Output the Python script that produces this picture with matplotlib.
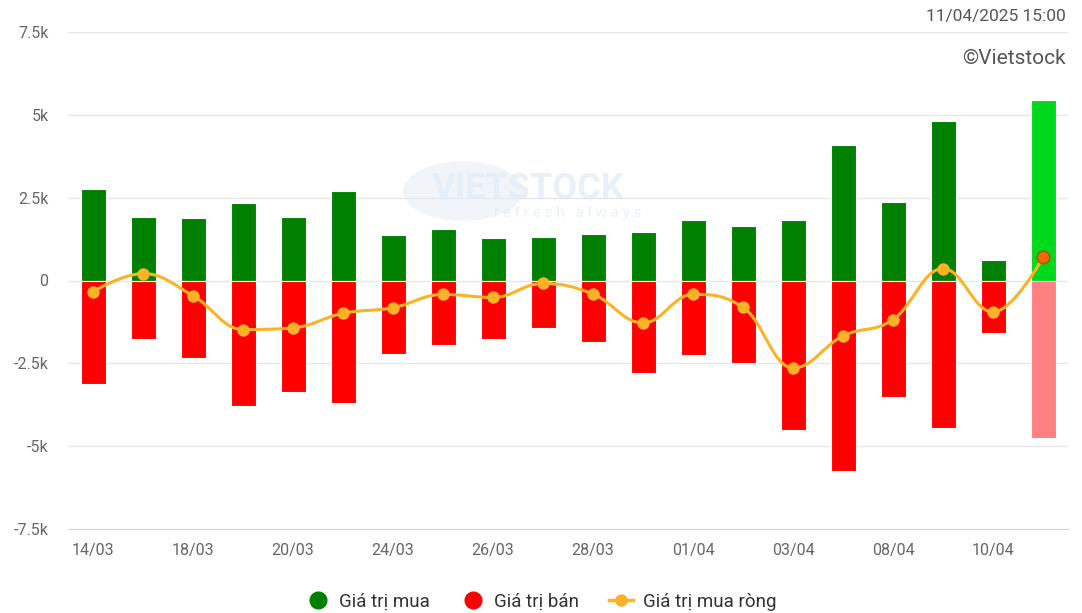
import matplotlib
matplotlib.use("Agg")
import matplotlib.pyplot as plt
from matplotlib.path import Path
from matplotlib.patches import PathPatch
from matplotlib.lines import Line2D
from matplotlib.ticker import FuncFormatter
import numpy as np

plt.rcParams["font.family"] = ["Roboto", "DejaVu Sans"]

dates = ["14/03", "17/03", "18/03", "19/03", "20/03", "21/03", "24/03", "25/03",
         "26/03", "27/03", "28/03", "31/03", "01/04", "02/04", "03/04", "04/04",
         "08/04", "09/04", "10/04", "11/04"]
buy = [2750, 1930, 1890, 2330, 1930, 2700, 1360, 1560, 1270, 1310,
       1400, 1450, 1830, 1650, 1830, 4100, 2370, 4820, 630, 5450]
sell = [-3110, -1760, -2340, -3790, -3360, -3700, -2210, -1950, -1760, -1420,
        -1850, -2780, -2250, -2490, -4500, -5750, -3530, -4460, -1570, -4740]
net = [-340, 210, -460, -1480, -1430, -990, -820, -420, -510, -90,
       -410, -1280, -420, -810, -2640, -1670, -1180, 360, -950, 700]

GREEN = "#008000"
RED = "#ff0000"
ORANGE = "#fbb225"


def spline_path(xs, ys, smoothing=1.5):
    # highcharts-like spline through the points, built as cubic bezier
    n = len(xs)
    verts = [(xs[0], ys[0])]
    codes = [Path.MOVETO]
    conts = []
    for i in range(n):
        if i == 0 or i == n - 1:
            conts.append(((xs[i], ys[i]), (xs[i], ys[i])))
            continue
        d = smoothing + 1
        lx = (smoothing * xs[i] + xs[i - 1]) / d
        ly = (smoothing * ys[i] + ys[i - 1]) / d
        rx = (smoothing * xs[i] + xs[i + 1]) / d
        ry = (smoothing * ys[i] + ys[i + 1]) / d
        if rx != lx:
            corr = (ry - ly) * (rx - xs[i]) / (rx - lx) + ys[i] - ry
            ly += corr
            ry += corr
        if ly > max(ys[i - 1], ys[i]):
            ly = max(ys[i - 1], ys[i]); ry = 2 * ys[i] - ly
        elif ly < min(ys[i - 1], ys[i]):
            ly = min(ys[i - 1], ys[i]); ry = 2 * ys[i] - ly
        if ry > max(ys[i + 1], ys[i]):
            ry = max(ys[i + 1], ys[i]); ly = 2 * ys[i] - ry
        elif ry < min(ys[i + 1], ys[i]):
            ry = min(ys[i + 1], ys[i]); ly = 2 * ys[i] - ry
        conts.append(((lx, ly), (rx, ry)))
    for i in range(1, n):
        verts += [conts[i - 1][1], conts[i][0], (xs[i], ys[i])]
        codes += [Path.CURVE4] * 3
    return Path(verts, codes)


fig = plt.figure(figsize=(10.82, 6.13), dpi=100)
ax = fig.add_axes([68 / 1082, 1 - 529 / 613, 1000 / 1082, 497 / 613])

x = np.arange(len(dates))
buy_colors = [GREEN] * (len(x) - 1) + ["#00d81e"]
sell_colors = [RED] * (len(x) - 1) + ["#ff8080"]
ax.bar(x, buy, width=0.5, color=buy_colors, edgecolor="white", linewidth=0.8, zorder=2)
ax.bar(x, sell, width=0.5, color=sell_colors, edgecolor="white", linewidth=0.8, zorder=2)

ax.add_patch(PathPatch(spline_path(list(x.astype(float)), net), fill=False,
                       edgecolor=ORANGE, linewidth=2.2, zorder=3))
ax.scatter(x[:-1], net[:-1], s=80, color=ORANGE, zorder=4, linewidths=0)
ax.scatter(x[-1:], net[-1:], s=80, color="#f06a0c", edgecolor="#b85000",
           linewidths=1, zorder=4)

ax.set_xlim(-0.5, len(x) - 0.5)
ax.set_ylim(-7500, 7500)
ax.set_yticks([-7500, -5000, -2500, 0, 2500, 5000, 7500])
ax.yaxis.set_major_formatter(FuncFormatter(
    lambda v, p: "0" if v == 0 else f"{v / 1000:g}k"))
ax.set_xticks(x[::2])
ax.set_xticklabels(dates[::2])
ax.tick_params(axis="both", length=0, labelsize=11.5, labelcolor="#666666")
ax.tick_params(axis="x", pad=10)
ax.tick_params(axis="y", pad=14)
for lab in ax.get_yticklabels():
    lab.set_horizontalalignment("right")
ax.grid(axis="y", color="#e6e6e6", linewidth=1, zorder=0)
ax.set_axisbelow(True)
for s in ["top", "right", "left"]:
    ax.spines[s].set_visible(False)
ax.spines["bottom"].set_color("#ccd6eb")
ax.spines["bottom"].set_position(("data", -7500))

# watermark
ax.text(0.46, 0.685, "VIETSTOCK", transform=ax.transAxes, fontsize=26,
        fontweight="bold", color="#dbe6f2", alpha=0.6, ha="center", va="center", zorder=1)
ax.text(0.50, 0.635, "r e f r e s h   a l w a y s", transform=ax.transAxes, fontsize=11,
        color="#dbe6f2", alpha=0.6, ha="center", va="center", zorder=1)
ax.add_patch(plt.Circle((0.395, 0.68), 0.06, transform=ax.transAxes,
                        color="#e4edf7", alpha=0.5, zorder=1, linewidth=0))

fig.text(1066 / 1082, 1 - 17 / 613, "11/04/2025 15:00", ha="right", va="center",
         fontsize=12.5, color="#555555")
fig.text(1066 / 1082, 1 - 58 / 613, "©Vietstock", ha="right", va="center",
         fontsize=15, color="#555555")

handles = [
    Line2D([], [], marker="o", linestyle="none", markersize=12, color=GREEN),
    Line2D([], [], marker="o", linestyle="none", markersize=12, color=RED),
    Line2D([], [], marker="o", linestyle="-", markersize=8, linewidth=2.5, color=ORANGE),
]
fig.legend(handles, ["Giá trị mua", "Giá trị bán", "Giá trị mua ròng"],
           loc="center", bbox_to_anchor=(0.5, 1 - 602 / 613), ncol=3, frameon=False,
           fontsize=13.5, labelcolor="#333333", handlelength=1.3, columnspacing=1.6,
           handletextpad=0.5)

fig.savefig("out.png", dpi=100, facecolor="white")
